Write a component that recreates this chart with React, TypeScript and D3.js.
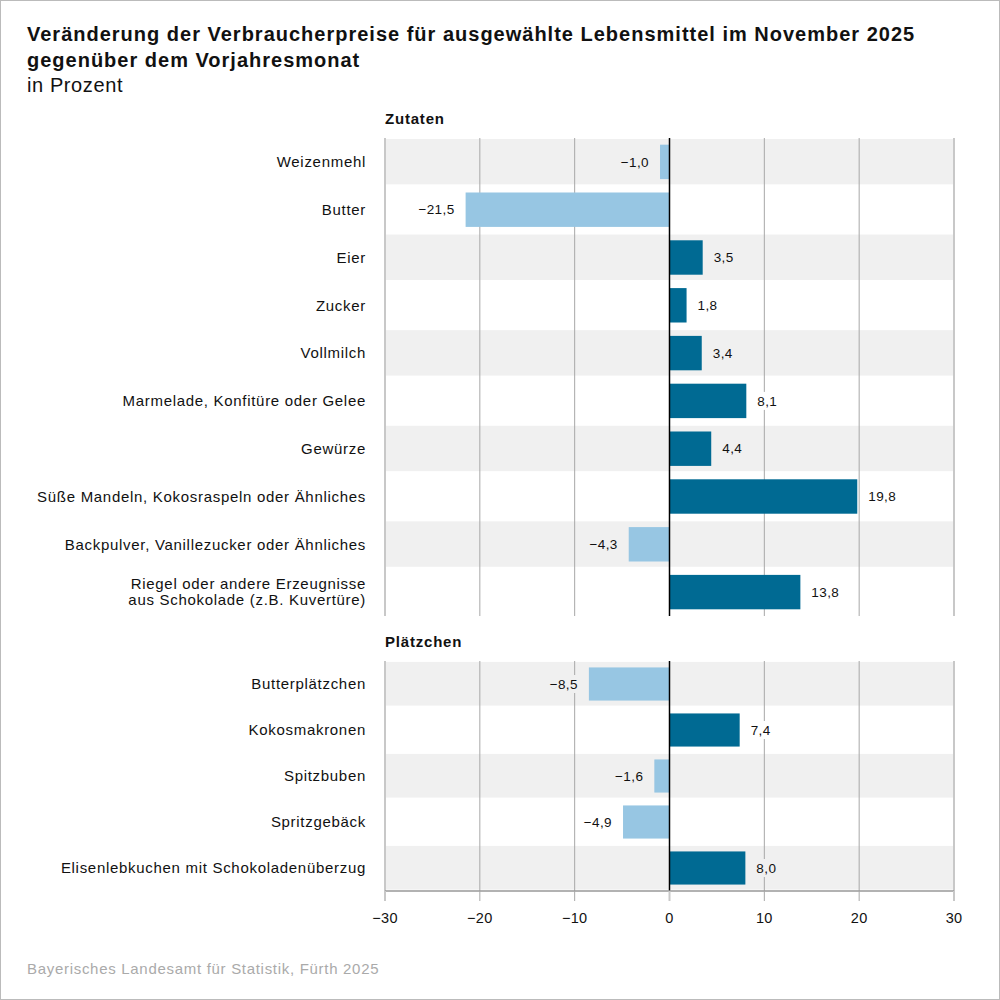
import React from 'react';
import * as d3 from 'd3';

// Zutaten
const zutatenLabels = [
  'Weizenmehl',
  'Butter',
  'Eier',
  'Zucker',
  'Vollmilch',
  'Marmelade, Konfitüre oder Gelee',
  'Gewürze',
  'Süße Mandeln, Kokosraspeln oder Ähnliches',
  'Backpulver, Vanillezucker oder Ähnliches',
  'Riegel oder andere Erzeugnisse\naus Schokolade (z.B. Kuvertüre)',
];
const zutatenValues = [-1.0, -21.5, 3.5, 1.8, 3.4, 8.1, 4.4, 19.8, -4.3, 13.8];

// Plätzchen
const plaetzchenLabels = [
  'Butterplätzchen',
  'Kokosmakronen',
  'Spitzbuben',
  'Spritzgebäck',
  'Elisenlebkuchen mit Schokoladenüberzug',
];
const plaetzchenValues = [-8.5, 7.4, -1.6, -4.9, 8.0];

const xTicks = [-30, -20, -10, 0, 10, 20, 30];

const FONT = '"Liberation Sans", Arial, Helvetica, sans-serif';
const POS = '#006a93';
const NEG = '#97c6e3';
const ROW_BG = '#f0f0f0';

const fmt = (v: number) => (v < 0 ? '\u2212' : '') + Math.abs(v).toFixed(1).replace('.', ',');

const x = d3.scaleLinear().domain([-30, 30]).range([385, 954]);

interface SectionProps {
  title: string;
  labels: string[];
  values: number[];
  top: number;
  bottom: number;
}

const Section: React.FC<SectionProps> = ({ title, labels, values, top, bottom }) => {
  const y = d3.scaleBand<number>().domain(d3.range(labels.length)).range([top, bottom]);
  const bars = d3.scaleBand<number>().domain(d3.range(labels.length)).range([top, bottom]).paddingInner(0.28).paddingOuter(0.14);
  const step = y.step();
  return (
    <g>
      <text x={385} y={top - 14} fontFamily={FONT} fontSize={15} letterSpacing={0.8} fontWeight="bold" fill="#111">{title}</text>
      {labels.map((_, i) => i % 2 === 0 && (
        <rect key={'bg' + i} x={x(-30)} width={x(30) - x(-30)} y={(y(i) || 0) + step * 0.02} height={step * 0.95} fill={ROW_BG} />
      ))}
      {xTicks.filter(t => t !== 0).map(t => (
        <line key={'g' + t} x1={x(t)} x2={x(t)} y1={top} y2={bottom}
          stroke={Math.abs(t) === 30 ? '#c8c8c8' : '#a8a8a8'} strokeWidth={Math.abs(t) === 30 ? 2 : 1} />
      ))}
      {values.map((v, i) => (
        <rect key={'b' + i} x={x(Math.min(0, v))} width={Math.abs(x(v) - x(0))}
          y={bars(i)} height={bars.bandwidth()} fill={v < 0 ? NEG : POS} />
      ))}
      <line x1={x(0)} x2={x(0)} y1={top} y2={bottom} stroke="#000" strokeWidth={1.5} />
      {values.map((v, i) => {
        const cy = (y(i) || 0) + step / 2;
        const txt = fmt(v);
        const w = txt.length * 8.2;
        const lx = v < 0 ? x(v) - 11 : x(v) + 11;
        const bx = v < 0 ? lx - w - 3 : lx - 3;
        return (
          <g key={'l' + i}>
            <rect x={bx} y={cy - 9} width={w + 6} height={18} fill={i % 2 === 0 ? ROW_BG : '#fff'} />
            <text x={lx} y={cy} dy="0.35em" textAnchor={v < 0 ? 'end' : 'start'} fontFamily={FONT} fontSize={13.5} letterSpacing={0.4} fill="#111">{txt}</text>
          </g>
        );
      })}
      {labels.map((l, i) => {
        const lines = l.split('\n');
        const cy = (y(i) || 0) + step / 2;
        return (
          <text key={'c' + i} x={366} textAnchor="end" fontFamily={FONT} fontSize={15} letterSpacing={0.7} fill="#111">
            {lines.map((ln, j) => (
              <tspan key={j} x={366} y={cy + (j - (lines.length - 1) / 2) * 16} dy="0.35em">{ln}</tspan>
            ))}
          </text>
        );
      })}
    </g>
  );
};

const App: React.FC = () => {
  const axisY = 891;
  return (
    <div style={{ position: 'fixed', left: 0, top: 0 }}>
      <svg width={1000} height={1000} style={{ display: 'block', background: '#fff' }}>
        <rect x={0.5} y={0.5} width={999} height={999} fill="#fff" stroke="#bbb" />
        <text x={27} y={41} fontFamily={FONT} fontSize={20} letterSpacing={1} fontWeight="bold" fill="#111">
          Veränderung der Verbraucherpreise für ausgewählte Lebensmittel im November 2025
        </text>
        <text x={27} y={67} fontFamily={FONT} fontSize={20} letterSpacing={1} fontWeight="bold" fill="#111">gegenüber dem Vorjahresmonat</text>
        <text x={27} y={92} fontFamily={FONT} fontSize={20} letterSpacing={0.6} fill="#111">in Prozent</text>

        <Section title="Zutaten" labels={zutatenLabels} values={zutatenValues} top={138} bottom={616} />
        <Section title="Plätzchen" labels={plaetzchenLabels} values={plaetzchenValues} top={661} bottom={axisY} />

        <line x1={x(-30)} x2={x(30)} y1={axisY} y2={axisY} stroke="#999" strokeWidth={1.5} />
        {xTicks.map(t => (
          <g key={t}>
            <line x1={x(t)} x2={x(t)} y1={axisY} y2={axisY + 10}
              stroke={Math.abs(t) === 30 || t === 0 ? '#c8c8c8' : '#a8a8a8'} strokeWidth={Math.abs(t) === 30 || t === 0 ? 2 : 1} />
            <text x={x(t)} y={axisY + 27} dy="0.35em" textAnchor="middle" fontFamily={FONT} fontSize={14.5} letterSpacing={0.3} fill="#111">{fmt(t).replace(',0', '')}</text>
          </g>
        ))}

        <text x={27} y={974} fontFamily={FONT} fontSize={15} letterSpacing={0.7} fill="#aaa">Bayerisches Landesamt für Statistik, Fürth 2025</text>
      </svg>
    </div>
  );
};

export default App;
